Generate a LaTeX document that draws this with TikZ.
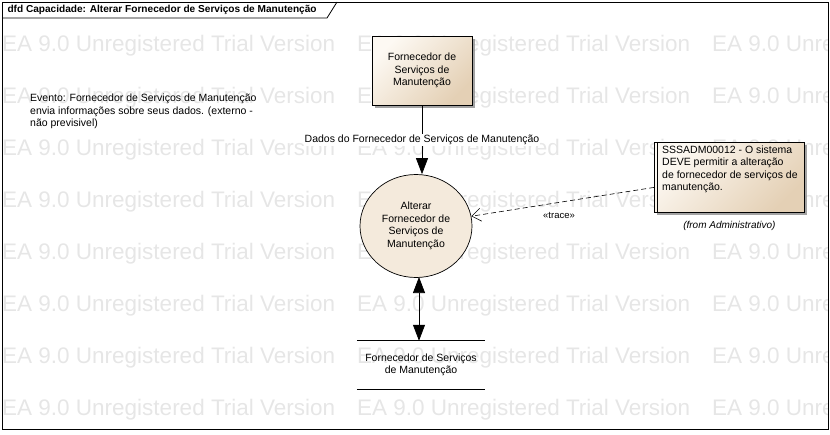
\documentclass[tikz,border=0pt]{standalone}
\usepackage{fontspec}
\setmainfont{Liberation Sans}
\usetikzlibrary{arrows.meta,shadows,shapes.geometric}

\definecolor{bege}{HTML}{F4EADC}
\definecolor{begeclaro}{HTML}{FDF9F3}
\definecolor{begeescuro}{HTML}{E4D0B5}
\definecolor{marca}{HTML}{E6E6E6}

\begin{document}
\begin{tikzpicture}[x=1pt,y=-1pt,font=\fontsize{10.5}{12.5}\selectfont,
    sombra/.style={drop shadow={shadow xshift=2.5pt,shadow yshift=-2.5pt,fill=black!45,opacity=0.8}},
    entidade/.style={draw,line width=0.8pt,minimum width=100pt,minimum height=69pt,align=center,
        top color=begeclaro,bottom color=begeescuro,shading angle=45,sombra},
    processo/.style={ellipse,draw,line width=0.7pt,fill=bege,minimum width=112pt,minimum height=103pt,
        align=center,inner sep=0pt},
    nota/.style={draw,line width=0.8pt,minimum width=150pt,minimum height=70pt,
        top color=begeclaro,bottom color=begeescuro,shading angle=45,sombra},
    fluxo/.style={line width=0.7pt,-{Triangle[length=16pt,width=12pt]}},
    rastro/.style={line width=0.6pt,dash pattern=on 5pt off 3pt,-{Straight Barb[length=9pt,width=13pt]}},
    marcadagua/.style={text=marca,font=\fontsize{22.5}{24}\selectfont,anchor=west,inner sep=0pt},
    ]
    \useasboundingbox (0,0) rectangle (830,434);

    % marca d'agua
    \begin{scope}
        \clip (0,0) rectangle (828,429);
        \foreach \l in {0,...,7}
            \foreach \c in {0,1,2}
                \node[marcadagua] at (2+355*\c,46+52*\l) {EA 9.0 Unregistered Trial Version};
    \end{scope}

    % moldura
    \draw[line width=0.8pt] (2,2) rectangle (828,429);
    \draw[line width=0.8pt] (2,18) -- (327,18) -- (337,2);
    \node[anchor=west,font=\fontsize{10.1}{12}\selectfont\bfseries] (titulo) at (4,10)
        {dfd Capacidade: Alterar Fornecedor de Serviços de Manutenção};

    \node[anchor=north west,align=left,inner sep=0pt] (evento) at (30,94)
        {Evento: Fornecedor de Serviços de Manutenção\\
         envia informações sobre seus dados. (externo -\\
         não previsivel)};

    \node[entidade] (fornecedor) at (422,70.5) {Fornecedor de\\Serviços de\\Manutenção};
    \node[processo] (alterar) at (416,226) {Alterar\\Fornecedor de\\Serviços de\\Manutenção};
    \node[minimum width=128pt,minimum height=48pt,align=center] (deposito) at (421,365)
        {Fornecedor de Serviços\\de Manutenção};
    \draw[line width=0.8pt] (deposito.north west) -- (deposito.north east);
    \draw[line width=0.8pt] (deposito.south west) -- (deposito.south east);

    \node[nota,anchor=north west] (requisito) at (654,142) {};
    \draw[line width=0.8pt] ([xshift=3.5pt]requisito.north west) -- ([xshift=3.5pt]requisito.south west);
    \node[anchor=north west,align=left,inner sep=0pt] (requisitotexto) at (662,145.5)
        {SSSADM00012 - O sistema\\DEVE permitir a alteração\\de fornecedor de serviços de\\manutenção.};
    \node[below=5pt,font=\fontsize{10}{12}\selectfont\itshape] (pacote) at (requisito.south)
        {(from Administrativo)};

    \draw[fluxo] (fornecedor.south) -- node[fill=white,inner sep=1pt] (dados)
        {Dados do Fornecedor de Serviços de Manutenção} (fornecedor.south |- alterar.north);
    \draw[fluxo,{Triangle[length=16pt,width=12pt]}-{Triangle[length=16pt,width=12pt]}]
        (deposito.north -| 419,0) -- (419,277);
    \draw[rastro] ([yshift=-10pt]requisito.west) -- node[pos=0.52,below=6pt,font=\fontsize{9.5}{11}\selectfont] (trace)
        {«trace»} (alterar.10);
\end{tikzpicture}
\end{document}
